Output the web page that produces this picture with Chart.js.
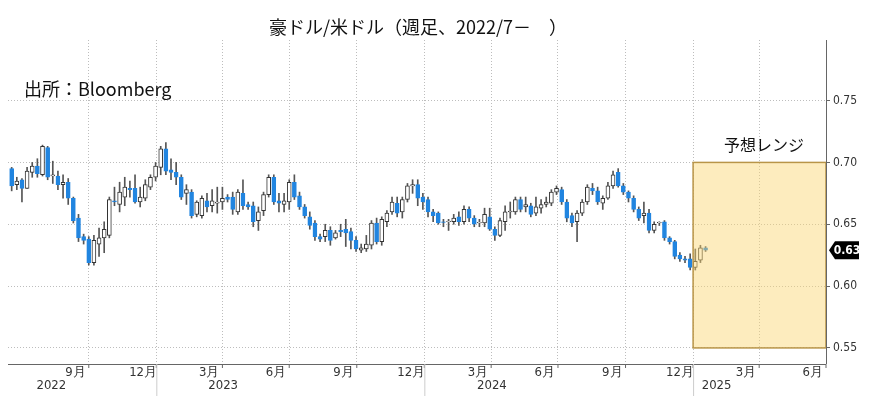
<!DOCTYPE html>
<html><head><meta charset="utf-8">
<script src="https://cdn.jsdelivr.net/npm/chart.js@4"></script>
<style>body{margin:0;background:#fff}</style>
</head><body>
<canvas id="c" width="872" height="407"></canvas>
<script>
// Weekly OHLC, AUD/USD, from late Jun 2022 (day offsets relative to 2022-10-01)
const firstDay = -105;
const openV = [.695,.682,.686,.679,.692,.697,.690,.712,.689,.689,.682,.684,.671,.655,.640,.638,.619,.634,.639,.641,.669,.666,.672,.679,.679,.668,.671,.680,.688,.696,.711,.694,.692,.688,.675,.676,.658,
.657,.669,.665,.667,.668,.672,.672,.660,.675,.666,.665,.653,.661,.674,.688,.669,.666,.668,.684,
.673,.664,.656,.651,.640,.640,.645,.639,.645,.646,.644,.637,.629,.630,.633,.651,.636,.652,.660,.667,.660,
.670,.681,.682,.672,.670,.660,.659,.652,.652,.652,.656,.652,.662,.655,.651,.651,.656,.646,.641,
.652,.660,.660,.670,.664,.665,.659,.663,.666,.667,.676,.678,.668,.657,.652,.659,.668,.679,
.677,.667,.671,.681,.692,.681,.676,.671,.662,.657,.659,.645,.651,.652,.639,.636,.625,.622,.622,.615,.621,.631];
const highV = [.696,.688,.687,.696,.700,.703,.714,.713,.701,.693,.690,.687,.672,.658,.642,.640,.641,.647,.652,.672,.680,.684,.688,.685,.690,.680,.686,.690,.700,.713,.716,.703,.700,.690,.682,.678,.669,
.673,.675,.678,.680,.680,.674,.676,.678,.686,.668,.668,.664,.676,.690,.690,.675,.675,.686,.690,
.676,.666,.660,.653,.642,.650,.648,.645,.650,.654,.647,.640,.634,.641,.653,.655,.656,.661,.672,.672,.672,
.683,.686,.686,.675,.672,.662,.660,.654,.654,.658,.660,.665,.664,.657,.654,.663,.663,.648,.655,
.665,.668,.672,.672,.672,.667,.672,.670,.672,.678,.681,.680,.670,.659,.661,.670,.682,.683,
.680,.673,.684,.693,.695,.683,.677,.673,.664,.668,.662,.652,.652,.653,.640,.637,.627,.624,.626,.630,.633,.632];
const lowV = [.677,.678,.668,.679,.688,.688,.689,.686,.683,.678,.671,.666,.651,.636,.634,.617,.617,.624,.627,.639,.665,.660,.665,.672,.667,.664,.669,.678,.685,.690,.690,.686,.682,.670,.666,.655,.656,
.655,.660,.660,.659,.662,.668,.658,.658,.662,.662,.648,.645,.657,.672,.666,.660,.660,.662,.670,
.662,.655,.646,.637,.636,.636,.633,.638,.640,.632,.630,.628,.627,.628,.630,.634,.633,.648,.658,.656,.655,
.668,.675,.665,.662,.656,.652,.650,.648,.645,.650,.649,.650,.652,.648,.648,.648,.645,.637,.640,
.645,.655,.658,.660,.660,.656,.657,.659,.664,.665,.674,.666,.652,.648,.636,.657,.666,.674,
.666,.662,.670,.679,.680,.674,.668,.660,.653,.651,.643,.643,.649,.637,.634,.622,.620,.619,.613,.613,.619,.628];
const closeV = [.681,.685,.679,.693,.697,.691,.713,.688,.690,.682,.684,.671,.653,.639,.637,.619,.637,.639,.646,.670,.668,.676,.680,.678,.668,.672,.682,.688,.697,.711,.693,.692,.688,.672,.678,.657,.668,
.671,.664,.669,.668,.671,.670,.662,.676,.665,.664,.652,.660,.674,.688,.668,.667,.669,.684,.672,
.664,.657,.649,.640,.638,.645,.637,.643,.644,.643,.637,.630,.631,.634,.651,.636,.654,.659,.668,.659,.670,
.681,.682,.671,.668,.660,.657,.651,.6515,.652,.655,.652,.662,.655,.650,.651,.658,.646,.641,.653,
.660,.660,.670,.662,.666,.658,.664,.666,.668,.676,.679,.668,.655,.651,.659,.668,.680,.677,
.668,.671,.681,.690,.681,.676,.671,.662,.655,.659,.645,.650,.651,.639,.636,.624,.622,.621,.615,.620,.631,.629];
const yTicks = [0.55,0.60,0.65,0.70,0.75];
const quarterDays = [0,92,182,273,365,457,548,639,731,823,913,1004];
const monthLabels = ['9月','12月','3月','6月','9月','12月','3月','6月','9月','12月','3月','6月'];
const yearLabels = [['2022',-51],['2023',183],['2024',549],['2025',855]];
const yearSplits = [92,457,823];
const rangeBox = {x0:823,x1:1004,y0:0.55,y1:0.70};
const lastValue = 0.63;

const days = closeV.map((_, i) => firstDay + 7*i);
const BLUE = '#2185e0';
const up = i => closeV[i] >= openV[i];

const overlay = {
  id:'overlay',
  afterDatasetsDraw(ch){
    const {ctx, chartArea:a, scales:{x,y}} = ch;
    ctx.save();
    const bx0=x.getPixelForValue(rangeBox.x0), bx1=x.getPixelForValue(rangeBox.x1);
    const by0=y.getPixelForValue(rangeBox.y1), by1=y.getPixelForValue(rangeBox.y0);
    ctx.fillStyle='rgba(250,212,110,0.45)';
    ctx.fillRect(bx0,by0,bx1-bx0,by1-by0);
    ctx.strokeStyle='#b89548'; ctx.lineWidth=1.5;
    ctx.strokeRect(bx0,by0,bx1-bx0,by1-by0);
    ctx.strokeStyle='#666'; ctx.lineWidth=1;
    ctx.beginPath(); ctx.moveTo(a.left,a.bottom+0.5); ctx.lineTo(a.right,a.bottom+0.5);
    ctx.moveTo(a.right+0.5,a.top); ctx.lineTo(a.right+0.5,a.bottom); ctx.stroke();
    ctx.fillStyle='#333'; ctx.font='13px "DejaVu Sans Condensed","DejaVu Sans",sans-serif';
    ctx.textAlign='center'; ctx.textBaseline='top';
    quarterDays.forEach((d,i)=>{
      const px=x.getPixelForValue(d);
      ctx.beginPath(); ctx.moveTo(px,a.bottom); ctx.lineTo(px,a.bottom+4); ctx.stroke();
      ctx.fillText(monthLabels[i], x.getPixelForValue(d-18), a.bottom+2);
    });
    ctx.strokeStyle='#ccc';
    yearSplits.forEach(d=>{
      const px=x.getPixelForValue(d)+0.5;
      ctx.beginPath(); ctx.moveTo(px,a.bottom); ctx.lineTo(px,a.bottom+32); ctx.stroke();
    });
    yearLabels.forEach(([t,d])=>ctx.fillText(t,x.getPixelForValue(d),a.bottom+15));
    ctx.fillStyle='#111'; ctx.textAlign='center'; ctx.textBaseline='middle';
    ctx.font='18px "Noto Sans CJK JP",sans-serif';
    ctx.fillText('豪ドル/米ドル（週足、2022/7－　）',418,27);
    ctx.textAlign='left';
    ctx.fillText('出所：Bloomberg',24,89);
    ctx.font='16px "Noto Sans CJK JP",sans-serif';
    ctx.fillText('予想レンジ',724,145);
    const ty=y.getPixelForValue(closeV[closeV.length-1]);
    const tx=a.right+3;
    ctx.fillStyle='#000';
    ctx.beginPath(); ctx.moveTo(tx,ty); ctx.lineTo(tx+6,ty-9); ctx.lineTo(tx+30,ty-9); ctx.lineTo(tx+30,ty+9); ctx.lineTo(tx+6,ty+9); ctx.closePath(); ctx.fill();
    ctx.fillStyle='#fff'; ctx.font='bold 12px "DejaVu Sans Condensed",sans-serif';
    ctx.textAlign='center'; ctx.fillText(lastValue.toFixed(2), tx+18, ty+0.5);
    ctx.restore();
  }
};

new Chart(document.getElementById('c'), {
  type:'bar',
  data:{datasets:[
    {label:'wick', data:days.map((d,i)=>({x:d,y:[lowV[i],highV[i]]})), backgroundColor:'#555', barThickness:1, grouped:false, order:2},
    {label:'body', data:days.map((d,i)=>({x:d,y:[openV[i],closeV[i]===openV[i]?closeV[i]+0.0006:closeV[i]]})),
     backgroundColor:c=>up(c.dataIndex)?'#fff':BLUE,
     borderColor:c=>up(c.dataIndex)?'#333':BLUE,
     borderWidth:1, borderSkipped:false, barThickness:4, grouped:false, order:1}
  ]},
  options:{
    responsive:false, animation:false,
    layout:{padding:{top:40,left:8,bottom:43,right:0}},
    plugins:{legend:{display:false},tooltip:{enabled:false}},
    scales:{
      x:{type:'linear', offset:false, min:-110, max:1004,
        afterBuildTicks:s=>{s.ticks=quarterDays.map(v=>({value:v}));},
        ticks:{display:false}, border:{display:false, dash:[1,2]},
        grid:{color:'#bdbdbd', drawTicks:false, offset:false}},
      y:{position:'right', min:0.537, max:0.799,
        afterBuildTicks:s=>{s.ticks=yTicks.map(v=>({value:v}));},
        afterFit:s=>{s.width=46;},
        ticks:{callback:v=>v.toFixed(2), color:'#333', padding:3, font:{size:12,family:'"DejaVu Sans Condensed","DejaVu Sans",sans-serif'}},
        border:{display:false, dash:[1,2]},
        grid:{color:'#bdbdbd', tickLength:4, tickColor:'#666', tickBorderDash:[]}}
    }
  },
  plugins:[overlay]
});
</script>
</body></html>
